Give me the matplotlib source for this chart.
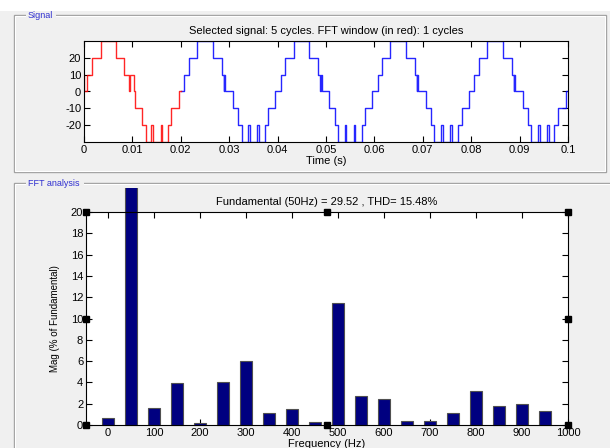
import matplotlib
matplotlib.use("Agg")
import matplotlib.pyplot as plt
from matplotlib.patches import Rectangle
from matplotlib.transforms import Bbox, TransformedBbox

plt.rcParams["font.family"] = ["Liberation Sans", "DejaVu Sans"]
plt.rcParams["axes.unicode_minus"] = False

# Inverter output: switching instants (s) and the level held after each one
switch_times = [
    0.0, 0.00005, 0.00055, 0.00165, 0.00344, 0.00654, 0.00833, 0.00940, 0.00948,
    0.01033, 0.01054, 0.01205, 0.01288, 0.01382, 0.01416, 0.01585, 0.01620,
    0.01732, 0.01790, 0.01963,
    0.02070, 0.02160, 0.02344, 0.02664, 0.02844, 0.02885, 0.02890, 0.02910,
    0.03070, 0.03178, 0.03256, 0.03384, 0.03420, 0.03570, 0.03606,
    0.03744, 0.03800, 0.03950,
    0.04065, 0.04160, 0.04336, 0.04656, 0.04844, 0.04885, 0.04890, 0.04910,
    0.05070, 0.05178, 0.05240, 0.05384, 0.05420, 0.05572, 0.05608,
    0.05736, 0.05800, 0.05950,
    0.06065, 0.06160, 0.06320, 0.06656, 0.06844, 0.06885, 0.06890, 0.06910,
    0.07070, 0.07178, 0.07240, 0.07384, 0.07420, 0.07565, 0.07600,
    0.07720, 0.07800, 0.07950,
    0.08065, 0.08160, 0.08320, 0.08656, 0.08844, 0.08885, 0.08890, 0.08910,
    0.09070, 0.09178, 0.09240, 0.09384, 0.09420, 0.09565, 0.09600,
    0.09720, 0.09800, 0.09960,
]
switch_levels = [
    10, 0, 10, 20, 30, 20, 10, 0, 10,
    0, -10, -20, -30, -20, -30, -20, -30,
    -20, -10, 0,
    10, 20, 30, 20, 10, 0, 10, 0,
    -10, -20, -30, -20, -30, -20, -30,
    -20, -10, 0,
    10, 20, 30, 20, 10, 0, 10, 0,
    -10, -20, -30, -20, -30, -20, -30,
    -20, -10, 0,
    10, 20, 30, 20, 10, 0, 10, 0,
    -10, -20, -30, -20, -30, -20, -30,
    -20, -10, 0,
    10, 20, 30, 20, 10, 0, 10, 0,
    -10, -20, -30, -20, -30, -20, -30,
    -20, -10, 0,
]
t_end = 0.1
fft_window_end = 0.02
n_cycles = 5
n_window_cycles = 1

# Harmonic spectrum (% of fundamental)
harmonic_freqs = [0, 50, 100, 150, 200, 250, 300, 350, 400, 450,
                  500, 550, 600, 650, 700, 750, 800, 850, 900, 950]
harmonic_mags = [0.66, 100.0, 1.6, 3.95, 0.22, 4.07, 6.02, 1.1, 1.5, 0.25,
                 11.44, 2.76, 2.41, 0.41, 0.41, 1.1, 3.23, 1.82, 1.94, 1.32]
fundamental_hz = 50
fundamental_mag = 29.52
thd_percent = 15.48

W, H = 610, 448
BG = "#f0f0f0"
fig = plt.figure(figsize=(W / 100, H / 100), dpi=100, facecolor=BG)


def fx(x):
    return x / W


def fy(y):
    return 1 - y / H


# white strip along the top of the window
fig.add_artist(Rectangle((0, fy(11)), 1, 11 / H, transform=fig.transFigure,
                         facecolor="white", edgecolor="none", zorder=0))


def panel(x0, y0, x1, y1, label, label_w):
    # etched frame: dark line plus a light highlight
    fig.add_artist(Rectangle((fx(x0), fy(y1)), fx(x1 - x0), (y1 - y0) / H,
                             transform=fig.transFigure, facecolor="none",
                             edgecolor="#a0a0a0", lw=1.0, zorder=1))
    fig.add_artist(Rectangle((fx(x0 + 1), fy(y1 - 1)), fx(x1 - x0 - 2), (y1 - y0 - 2) / H,
                             transform=fig.transFigure, facecolor="none",
                             edgecolor="white", lw=0.8, zorder=1))
    fig.add_artist(Rectangle((fx(x0 + 12), fy(y0 + 4)), fx(label_w), 8 / H,
                             transform=fig.transFigure, facecolor=BG,
                             edgecolor="none", zorder=2))
    fig.text(fx(x0 + 14), fy(y0), label, color="#3030d0", fontsize=6.5,
             ha="left", va="center", zorder=3)


panel(14, 15, 606, 172, "Signal", 30)
panel(14, 183, 620, 470, "FFT analysis", 58)

# ---------- signal axes ----------
ax1 = fig.add_axes([fx(84), fy(142), fx(568 - 84), (142 - 41) / H])
ax1.set_facecolor("white")
times = list(switch_times) + [t_end]
levels = list(switch_levels) + [switch_levels[-1]]
red_t = [t for t in times if t <= fft_window_end] + [fft_window_end]
red_v = [v for t, v in zip(times, levels) if t <= fft_window_end]
red_v = red_v + [red_v[-1]]
blue_t = [fft_window_end] + [t for t in times if t > fft_window_end]
blue_v = [red_v[-1]] + [v for t, v in zip(times, levels) if t > fft_window_end]
ax1.step(blue_t, blue_v, where="post", color="#0000ff", lw=1.0, alpha=0.85)
ax1.step(red_t, red_v, where="post", color="#ff0000", lw=1.0, alpha=0.85)
ax1.set_xlim(0, t_end)
ax1.set_ylim(-30, 30)
ax1.set_xticks([i / 100 for i in range(11)])
ax1.set_xticklabels(["0"] + ["%g" % (i / 100) for i in range(1, 11)])
ax1.set_yticks([-20, -10, 0, 10, 20])
ax1.tick_params(direction="in", length=4, width=0.8, labelsize=8,
                top=True, right=True, pad=2)
ax1.set_xlabel("Time (s)", fontsize=8, labelpad=1)
ax1.set_title("Selected signal: %d cycles. FFT window (in red): %d cycles"
              % (n_cycles, n_window_cycles), fontsize=8, pad=5)
for s in ax1.spines.values():
    s.set_linewidth(0.8)

# ---------- spectrum axes ----------
ax2 = fig.add_axes([fx(86), fy(425), fx(568 - 86), (425 - 212) / H])
ax2.set_facecolor("white")
bars = ax2.bar(harmonic_freqs, harmonic_mags, width=25, color="#000080",
               edgecolor="#505050", linewidth=0.8, zorder=2)
clip = TransformedBbox(Bbox.from_extents(0, 0, 1, fy(188)), fig.transFigure)
for b in bars:
    b.set_clip_box(clip)
ax2.set_xlim(-48, 1000)
ax2.set_ylim(0, 20)
ax2.set_xticks(range(0, 1001, 100))
ax2.set_yticks(range(0, 21, 2))
ax2.tick_params(direction="in", length=4, width=0.8, labelsize=8,
                top=True, right=True, pad=2)
ax2.set_xlabel("Frequency (Hz)", fontsize=8, labelpad=1)
ax2.set_ylabel("Mag (% of Fundamental)", fontsize=7, labelpad=8)
ax2.set_title("Fundamental (%dHz) = %.2f , THD= %.2f%%"
              % (fundamental_hz, fundamental_mag, thd_percent), fontsize=8, pad=5)
for s in ax2.spines.values():
    s.set_linewidth(0.8)

# selection handles around the spectrum axes
hx = [0, 0, 0, 0.5, 0.5, 1, 1, 1]
hy = [0, 0.5, 1, 0, 1, 0, 0.5, 1]
ax2.plot(hx, hy, "s", color="black", ms=3.8, transform=ax2.transAxes,
         clip_on=False, zorder=5)

fig.savefig("out.png", dpi=100, facecolor=BG)
